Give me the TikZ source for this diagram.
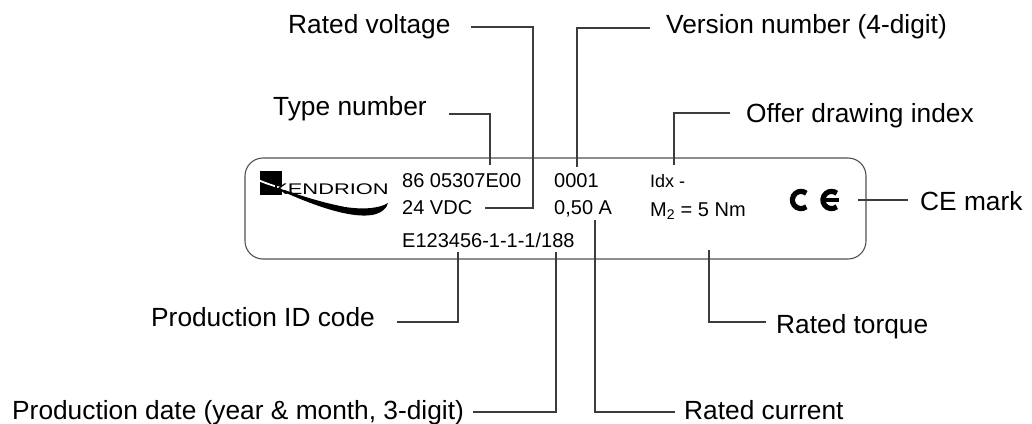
\documentclass[tikz,border=0pt]{standalone}
\usepackage{fontspec}
\setmainfont{Liberation Sans}
\definecolor{linegray}{HTML}{3C3C3C}
\definecolor{plategray}{HTML}{505050}
\begin{document}
\begin{tikzpicture}[x=1pt,y=-1pt,
  lbl/.style={anchor=base west, inner sep=0pt, font=\fontsize{26.3}{30}\selectfont},
  platetxt/.style={anchor=base west, inner sep=0pt, font=\fontsize{20}{24}\selectfont},
  platesm/.style={anchor=base west, inner sep=0pt, font=\fontsize{18}{21}\selectfont},
  lead/.style={draw=linegray, line width=1.1pt},
  cemark/.style={line width=5.2pt, draw=black}]
\useasboundingbox (0,0) rectangle (1032,423);

% plate
\draw[plategray, line width=1.1pt, rounded corners=18pt] (245,158) rectangle (866,259);

% logo
\fill[black] (260,171) rectangle (282,195);
\fill[black] (262,182) .. controls (300,200) and (345,219) .. (372,215)
   .. controls (382,213) and (387,208) .. (388,203)
   .. controls (380,208) and (365,210) .. (345,207)
   .. controls (310,200) and (285,190) .. (262,182) -- cycle;
\draw[white, line width=1.8pt] (258,180) .. controls (268,184) .. (284,189);
\node[anchor=base west, inner sep=0pt, font=\fontsize{15.4}{18}\selectfont, xscale=1.42] (logo) at (273,194) {KENDRION};

% plate texts
\node[platetxt] (type) at (402,187) {86 05307E00};
\node[platetxt] (ver) at (554,187) {0001};
\node[platesm] (idx) at (650,187) {Idx -};
\node[platetxt] (volt) at (402,214) {24 VDC};
\node[platetxt] (curr) at (554,214) {0,50 A};
\node[platetxt] (torq) at (650,216) {M\textsubscript{2} = 5 Nm};
\node[platetxt] (prod) at (402,247) {E123456-1-1-1/188};

% CE symbol
\draw[cemark] (801,200) ++(52:8.6) arc[start angle=52, end angle=308, radius=8.6];
\draw[cemark] (831.5,200) ++(52:8.6) arc[start angle=52, end angle=308, radius=8.6];
\draw[line width=4pt] (824,200) -- (838.5,200);
\coordinate (ce) at (858,200);

% labels
\node[lbl] (Lvolt) at (288,33) {Rated voltage};
\node[lbl] (Lver) at (666,33) {Version number (4-digit)};
\node[lbl] (Ltype) at (273,115) {Type number};
\node[lbl] (Lidx) at (746,122) {Offer drawing index};
\node[lbl] (Lce) at (920,210) {CE mark};
\node[lbl] (Lprod) at (151,326) {Production ID code};
\node[lbl] (Ltorq) at (776,333) {Rated torque};
\node[lbl] (Ldate) at (12,419) {Production date (year \& month, 3-digit)};
\node[lbl] (Lcurr) at (684,419) {Rated current};

% connector end points
\coordinate (aType) at (449,114); \coordinate (bType) at (490,165);
\coordinate (aVolt) at (471,27);  \coordinate (cVolt) at (533,208); \coordinate (bVolt) at (485,208);
\coordinate (aVer) at (650,28);   \coordinate (bVer) at (577,167);
\coordinate (aIdx) at (730,113);  \coordinate (bIdx) at (674,165);
\coordinate (aCe) at (908,200);
\coordinate (aProd) at (397,322); \coordinate (bProd) at (458,252);
\coordinate (aDate) at (473,412); \coordinate (bDate) at (556,252);
\coordinate (aCurr) at (675,412); \coordinate (bCurr) at (595,220);
\coordinate (aTorq) at (766,322); \coordinate (bTorq) at (709,250);

% connectors
\draw[lead] (aType) -| (bType);
\draw[lead] (aVolt) -| (cVolt) -- (bVolt);
\draw[lead] (aVer) -| (bVer);
\draw[lead] (aIdx) -| (bIdx);
\draw[lead] (ce) -- (aCe);
\draw[lead] (aProd) -| (bProd);
\draw[lead] (aDate) -| (bDate);
\draw[lead] (aCurr) -| (bCurr);
\draw[lead] (aTorq) -| (bTorq);
\end{tikzpicture}
\end{document}
